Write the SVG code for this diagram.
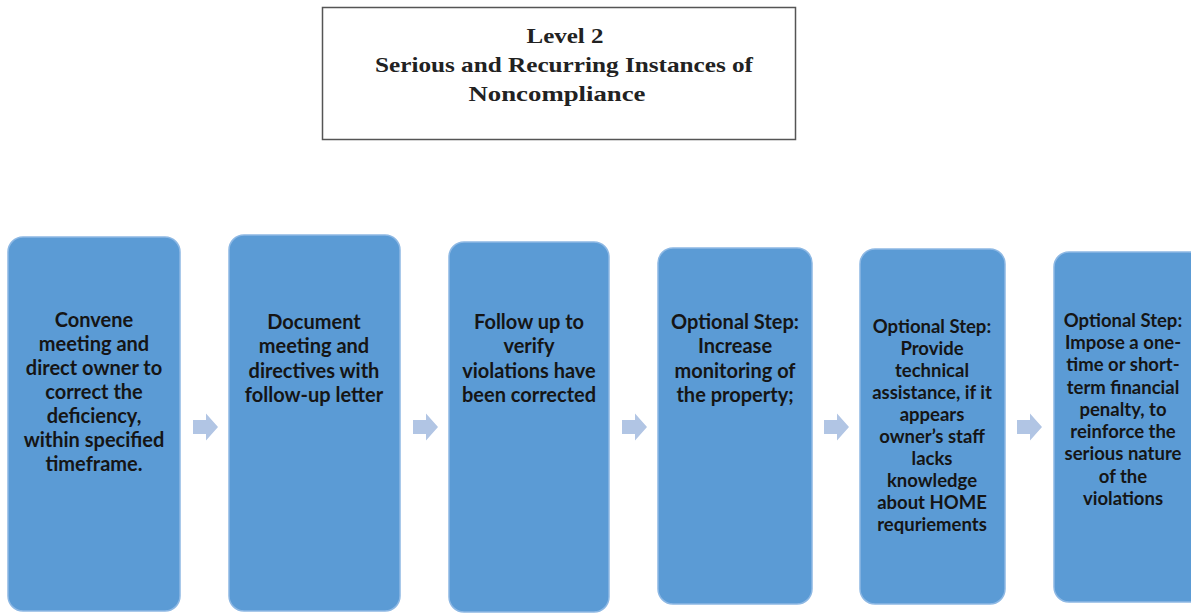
<svg xmlns="http://www.w3.org/2000/svg" width="1191" height="613" viewBox="0 0 1191 613">
<style>
.box{fill:#5B9BD5;stroke:#8DB8E4;stroke-width:1.5}
.t{font-family:Lato,"Open Sans",sans-serif;font-weight:bold;font-size:20px;fill:#151515;text-anchor:middle}
.s{font-size:18.5px}
.ttl{font-family:"Liberation Serif","Times New Roman",serif;font-weight:bold;font-size:21px;fill:#222;text-anchor:middle}
.arr{fill:#B1C5E4}
</style>
<defs>
<path id="ar" d="M0,-7 H13 V-13.5 L25,0 L13,13.5 V7 H0 Z"/>
</defs>
<rect width="1191" height="613" fill="#fff"/>
<g id="title">
<rect x="322.5" y="7.5" width="473" height="132" fill="#fff" stroke="#555" stroke-width="1.5"/>
<text class="ttl" x="565" y="43" textLength="77" lengthAdjust="spacingAndGlyphs">Level 2</text>
<text class="ttl" x="564" y="72" textLength="378" lengthAdjust="spacingAndGlyphs">Serious and Recurring Instances of</text>
<text class="ttl" x="557" y="101" textLength="177" lengthAdjust="spacingAndGlyphs">Noncompliance</text>
</g>
<g id="connectors">
<use href="#ar" class="arr" x="193" y="427"/>
<use href="#ar" class="arr" x="413" y="427"/>
<use href="#ar" class="arr" x="622" y="427"/>
<use href="#ar" class="arr" x="824" y="427"/>
<use href="#ar" class="arr" x="1017" y="427"/>
</g>
<g id="n1">
<rect class="box" x="8" y="237" width="172" height="374" rx="15"/>
<text class="t" x="94" y="327">Convene</text>
<text class="t" x="94" y="351">meeting and</text>
<text class="t" x="94" y="375">direct owner to</text>
<text class="t" x="94" y="399">correct the</text>
<text class="t" x="94" y="423">deficiency,</text>
<text class="t" x="94" y="447">within specified</text>
<text class="t" x="94" y="471">timeframe.</text>
</g>
<g id="n2">
<rect class="box" x="229" y="235" width="171" height="376" rx="15"/>
<text class="t" x="314" y="329">Document</text>
<text class="t" x="314" y="353">meeting and</text>
<text class="t" x="314" y="378">directives with</text>
<text class="t" x="314" y="402">follow-up letter</text>
</g>
<g id="n3">
<rect class="box" x="449" y="242" width="160" height="370" rx="15"/>
<text class="t" x="529" y="329">Follow up to</text>
<text class="t" x="529" y="353">verify</text>
<text class="t" x="529" y="378">violations have</text>
<text class="t" x="529" y="402">been corrected</text>
</g>
<g id="n4">
<rect class="box" x="658" y="248" width="154" height="356" rx="15"/>
<text class="t" x="735" y="329">Optional Step:</text>
<text class="t" x="735" y="353">Increase</text>
<text class="t" x="735" y="378">monitoring of</text>
<text class="t" x="735" y="402">the property;</text>
</g>
<g id="n5">
<rect class="box" x="860" y="249" width="145" height="355" rx="15"/>
<text class="t s" x="932" y="333">Optional Step:</text>
<text class="t s" x="932" y="355">Provide</text>
<text class="t s" x="932" y="377">technical</text>
<text class="t s" x="932" y="399">assistance, if it</text>
<text class="t s" x="932" y="421">appears</text>
<text class="t s" x="932" y="443">owner’s staff</text>
<text class="t s" x="932" y="465">lacks</text>
<text class="t s" x="932" y="487">knowledge</text>
<text class="t s" x="932" y="509">about HOME</text>
<text class="t s" x="932" y="531">requriements</text>
</g>
<g id="n6">
<rect class="box" x="1054" y="252" width="150" height="350" rx="15"/>
<text class="t s" x="1123" y="327">Optional Step:</text>
<text class="t s" x="1123" y="349">Impose a one-</text>
<text class="t s" x="1123" y="371">time or short-</text>
<text class="t s" x="1123" y="394">term financial</text>
<text class="t s" x="1123" y="416">penalty, to</text>
<text class="t s" x="1123" y="438">reinforce the</text>
<text class="t s" x="1123" y="460">serious nature</text>
<text class="t s" x="1123" y="483">of the</text>
<text class="t s" x="1123" y="505">violations</text>
</g>
</svg>
